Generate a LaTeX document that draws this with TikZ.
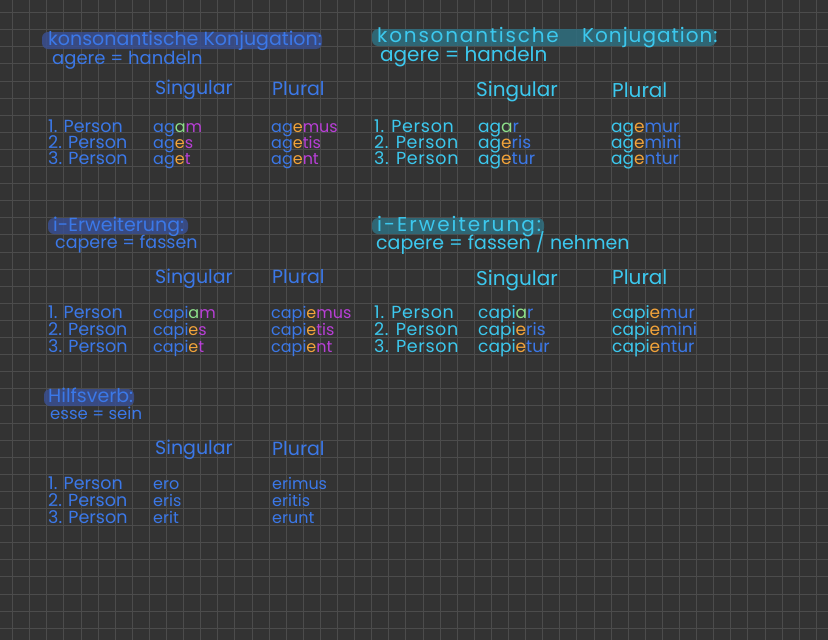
\documentclass[tikz,border=0pt]{standalone}
\usepackage{fontspec}
\setmainfont{Poppins}
\usepackage{xcolor}
\usetikzlibrary{positioning}

\definecolor{paper}{HTML}{333333}
\definecolor{gridline}{HTML}{4C4C4C}
\definecolor{inkblue}{HTML}{3B78E8}
\definecolor{inkcyan}{HTML}{3CC8EE}
\definecolor{inkgreen}{HTML}{8DE08A}
\definecolor{inkorange}{HTML}{F2A33A}
\definecolor{inkviolet}{HTML}{B83FD6}
\definecolor{markblue}{HTML}{3A4F90}
\definecolor{markteal}{HTML}{2F6F80}

% left forms: stem blue, ending violet; right forms: stem cyan, ending blue
\newcommand{\lform}[4]{\textcolor{inkblue}{#1}\textcolor{#2}{#3}\textcolor{inkviolet}{#4}}
\newcommand{\rform}[4]{\textcolor{inkcyan}{#1}\textcolor{#2}{#3}\textcolor{inkblue}{#4}}

\tikzset{
  ink/.style={anchor=base west, inner sep=0pt},
  leftink/.style={ink, text=inkblue, font=\fontsize{19}{19}\selectfont},
  leftrow/.style={ink, text=inkblue, font=\fontsize{17.5}{17.5}\selectfont},
  leftform/.style={ink, font=\fontsize{16}{16}\selectfont},
  rightink/.style={ink, text=inkcyan, font=\fontsize{20}{20}\selectfont},
  rightrow/.style={ink, text=inkcyan, font=\fontsize{17.5}{17.5}\selectfont\addfontfeature{LetterSpace=4}},
  rightform/.style={ink, font=\fontsize{17}{17}\selectfont},
  wideink/.style={rightink, font=\fontsize{20}{20}\selectfont\addfontfeature{LetterSpace=#1}},
  marker/.style={rounded corners=6pt, fill=#1, opacity=0.85}
}

\begin{document}
\begin{tikzpicture}[x=1pt, y=-1pt]
    % Paper
    \fill[paper] (0,0) rectangle (828,640);
    \useasboundingbox (0,0) rectangle (828,640);
    \foreach \i in {0,...,48} {
        \draw[gridline, line width=0.8pt] (12.5+17.1*\i,0) -- (12.5+17.1*\i,640);
    }
    \foreach \i in {0,...,37} {
        \draw[gridline, line width=0.8pt] (0,12.5+17.1*\i) -- (828,12.5+17.1*\i);
    }

    % Highlighter marks
    \fill[marker=markblue] (42,32) rectangle (322,49);
    \fill[marker=markteal] (372,29) rectangle (716,46);
    \fill[marker=markblue] (48,218) rectangle (188,234);
    \fill[marker=markteal] (372,218) rectangle (544,234);
    \fill[marker=markblue] (44,389) rectangle (134,406);

    % Konsonantische Konjugation, left
    \node[leftink] (l1title) at (48,45) {konsonantische Konjugation:};
    \node[leftink, font=\fontsize{18}{18}\selectfont] (l1verb) at (52,64) {agere = handeln};
    \node[leftink] (l1sg) at (155,94) {Singular};
    \node[leftink] (l1pl) at (272,95) {Plural};
    \foreach \n/\y in {1/132,2/148,3/164}
        \node[leftrow] (l1p\n) at (48,\y) {\n. Person};
    \node[leftform] (l1s1) at (153,132) {\lform{ag}{inkgreen}{a}{m}};
    \node[leftform] (l1s2) at (153,148) {\lform{ag}{inkorange}{e}{s}};
    \node[leftform] (l1s3) at (153,164) {\lform{ag}{inkorange}{e}{t}};
    \node[leftform] (l1q1) at (271,132) {\lform{ag}{inkorange}{e}{mus}};
    \node[leftform] (l1q2) at (271,148) {\lform{ag}{inkorange}{e}{tis}};
    \node[leftform] (l1q3) at (271,164) {\lform{ag}{inkorange}{e}{nt}};

    % Konsonantische Konjugation, right
    \node[wideink=9] (r1title) at (377,42) {konsonantische};
    \node[wideink=5] (r1title2) at (582,42) {Konjugation:};
    \node[rightink] (r1verb) at (380,61) {agere = handeln};
    \node[rightink] (r1sg) at (476,96) {Singular};
    \node[rightink] (r1pl) at (612,97) {Plural};
    \foreach \n/\y in {1/132,2/148,3/164}
        \node[rightrow] (r1p\n) at (374,\y) {\n. Person};
    \node[rightform] (r1s1) at (478,132) {\rform{ag}{inkgreen}{a}{r}};
    \node[rightform] (r1s2) at (478,148) {\rform{ag}{inkorange}{e}{ris}};
    \node[rightform] (r1s3) at (478,164) {\rform{ag}{inkorange}{e}{tur}};
    \node[rightform] (r1q1) at (611,132) {\rform{ag}{inkorange}{e}{mur}};
    \node[rightform] (r1q2) at (611,148) {\rform{ag}{inkorange}{e}{mini}};
    \node[rightform] (r1q3) at (611,164) {\rform{ag}{inkorange}{e}{ntur}};

    % i-Erweiterung, left
    \node[leftink] (l2title) at (53,231) {i-Erweiterung:};
    \node[leftink, font=\fontsize{17.5}{17.5}\selectfont] (l2verb) at (55,248) {capere = fassen};
    \node[leftink] (l2sg) at (155,283) {Singular};
    \node[leftink] (l2pl) at (272,283) {Plural};
    \foreach \n/\y in {1/318,2/335,3/352}
        \node[leftrow] (l2p\n) at (48,\y) {\n. Person};
    \node[leftform] (l2s1) at (153,318) {\lform{capi}{inkgreen}{a}{m}};
    \node[leftform] (l2s2) at (153,335) {\lform{capi}{inkorange}{e}{s}};
    \node[leftform] (l2s3) at (153,352) {\lform{capi}{inkorange}{e}{t}};
    \node[leftform] (l2q1) at (271,318) {\lform{capi}{inkorange}{e}{mus}};
    \node[leftform] (l2q2) at (271,335) {\lform{capi}{inkorange}{e}{tis}};
    \node[leftform] (l2q3) at (271,352) {\lform{capi}{inkorange}{e}{nt}};

    % i-Erweiterung, right
    \node[wideink=10] (r2title) at (377,231) {i-Erweiterung:};
    \node[rightink, font=\fontsize{19}{19}\selectfont] (r2verb) at (376,249) {capere = fassen / nehmen};
    \node[rightink] (r2sg) at (476,285) {Singular};
    \node[rightink] (r2pl) at (612,284) {Plural};
    \foreach \n/\y in {1/318,2/335,3/352}
        \node[rightrow] (r2p\n) at (374,\y) {\n. Person};
    \node[rightform] (r2s1) at (478,318) {\rform{capi}{inkgreen}{a}{r}};
    \node[rightform] (r2s2) at (478,335) {\rform{capi}{inkorange}{e}{ris}};
    \node[rightform] (r2s3) at (478,352) {\rform{capi}{inkorange}{e}{tur}};
    \node[rightform] (r2q1) at (612,318) {\rform{capi}{inkorange}{e}{mur}};
    \node[rightform] (r2q2) at (612,335) {\rform{capi}{inkorange}{e}{mini}};
    \node[rightform] (r2q3) at (612,352) {\rform{capi}{inkorange}{e}{ntur}};

    % Hilfsverb
    \node[leftink] (l3title) at (48,402) {Hilfsverb:};
    \node[leftink, font=\fontsize{16.5}{16.5}\selectfont] (l3verb) at (50,419) {esse = sein};
    \node[leftink] (l3sg) at (155,454) {Singular};
    \node[leftink] (l3pl) at (272,455) {Plural};
    \foreach \n/\y in {1/489,2/506,3/523}
        \node[leftrow] (l3p\n) at (48,\y) {\n. Person};
    \node[leftform, text=inkblue] (l3s1) at (153,489) {ero};
    \node[leftform, text=inkblue] (l3s2) at (153,506) {eris};
    \node[leftform, text=inkblue] (l3s3) at (153,523) {erit};
    \node[leftform, text=inkblue] (l3q1) at (272,489) {erimus};
    \node[leftform, text=inkblue] (l3q2) at (272,506) {eritis};
    \node[leftform, text=inkblue] (l3q3) at (272,523) {erunt};
\end{tikzpicture}
\end{document}
